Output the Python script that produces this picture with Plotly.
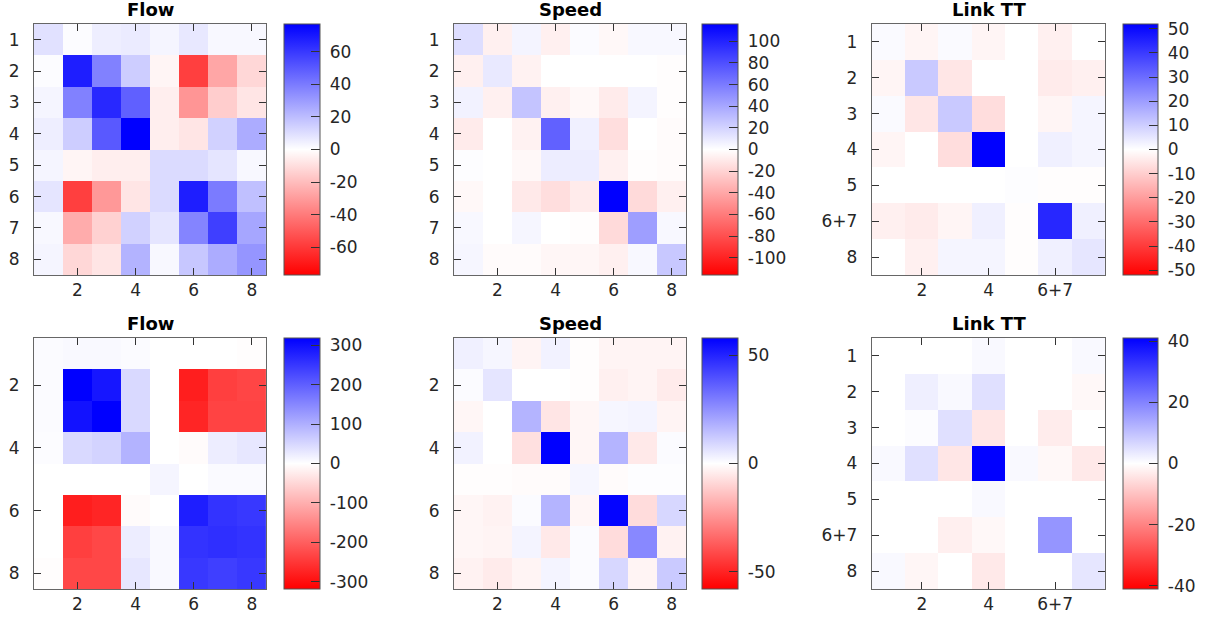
import plotly.graph_objects as go

W, H = 1206, 621

# ---------------- data ----------------
idx8 = [1, 2, 3, 4, 5, 6, 7, 8]
idx7 = [1, 2, 3, 4, 5, 6, 7]
labels_tt = ['1', '2', '3', '4', '5', '6+7', '8']

flow_top = [
    [9, 1, 5, 6, 3, 7, 2, 2],
    [1, 68, 38, 15, -3, -58, -27, -12],
    [3, 38, 65, 48, -5, -32, -15, -8],
    [5, 15, 50, 77, -5, -8, 14, 25],
    [3, -3, -5, -5, 11, 11, 8, 2],
    [8, -58, -31, -8, 11, 68, 40, 19],
    [2, -25, -14, 14, 8, 37, 58, 27],
    [3, -12, -8, 23, 2, 17, 25, 32],
]
speed_top = [
    [15, -7, 5, -7, 2, -3, 3, 3],
    [-7, 10, -6, 0, 0, 0, 0, -1],
    [6, -7, 27, -7, -3, -9, 5, -1],
    [-9, 0, -6, 72, 7, -15, 0, -2],
    [1, 0, -3, 8, 8, -7, -1, -2],
    [-3, 0, -10, -15, -9, 116, -17, -7],
    [3, 0, 4, 0, -1, -17, 44, 3],
    [4, -2, -2, -4, -4, -7, 3, 25],
]
linktt_top = [
    [1, -2, 1, -2, 0, -3, 0],
    [-2, 11, -5, 0, 0, -4, -3],
    [1, -5, 11, -7, 0, -2, 2],
    [-2, 0, -7, 52, 0, 3, 2],
    [0, 0, 0, 0, 0.5, -0.5, -0.5],
    [-3, -4, -2, 3, -0.5, 44, 3],
    [0, -3, 2, 2, -0.5, 3, 5],
]
flow_bot = [
    [5, 8, 8, 5, 0, 0, 0, -2],
    [5, 318, 290, 48, 0, -280, -240, -232],
    [5, 296, 318, 48, 0, -272, -235, -235],
    [4, 48, 55, 95, 0, -5, 22, 30],
    [0, 0, 0, 0, 12, 0, 6, 6],
    [0, -280, -272, -5, 0, 280, 254, 248],
    [0, -240, -230, 22, 8, 254, 260, 254],
    [-2, -230, -230, 30, 8, 248, 240, 248],
]
speed_bot = [
    [3.5, 2, -2.5, 3, -0.5, -2.5, -2.5, -2.5],
    [1, 6, 0, 0, -0.5, -3.5, -2.5, -4.5],
    [-2, 0, 17, -6, -2, 2, 2.5, -2.5],
    [3, 0, -7, 58, -2, 17, -5, 1],
    [-0.5, -0.5, -1, -1, 2, -1, 0.5, 0.5],
    [-2, -3, 1, 17, -2, 57, -8, 9],
    [-2, -2.5, 2.5, -5, 1, -8, 27, -3],
    [-3, -4.5, -2.5, 2.5, 1, 9, -2.5, 12],
]
linktt_bot = [
    [0, 0, 0, 1, 0, 0, 1],
    [0, 2.5, 1, 5, 0, 0, -1.2],
    [0, 0.5, 5, -4, 0, -3, 0],
    [1, 5, -4, 41, 1, -1.2, -3.5],
    [0, 0, 0, 1, 0, 0, 0],
    [0, 0, -2.5, -1.2, 0, 17, 0],
    [1, -1.5, 0, -3.5, 0, 0, 4],
]

titles = ['Flow', 'Speed', 'Link TT', 'Flow', 'Speed', 'Link TT']
cbar_ticks = [
    [-60, -40, -20, 0, 20, 40, 60],
    [-100, -80, -60, -40, -20, 0, 20, 40, 60, 80, 100],
    [-50, -40, -30, -20, -10, 0, 10, 20, 30, 40, 50],
    [-300, -200, -100, 0, 100, 200, 300],
    [-50, 0, 50],
    [-40, -20, 0, 20, 40],
]

# ---------------- layout geometry (pixels) ----------------
col_x = [(34, 267, 285, 321), (455, 688, 704, 740), (874, 1108, 1126, 1161)]
row_y = [(24, 275), (338, 589)]

panels = [
    dict(z=flow_top, x=idx8, y=idx8, xt=([2, 4, 6, 8], ['2', '4', '6', '8']), yt=(idx8, [str(i) for i in idx8])),
    dict(z=speed_top, x=idx8, y=idx8, xt=([2, 4, 6, 8], ['2', '4', '6', '8']), yt=(idx8, [str(i) for i in idx8])),
    dict(z=linktt_top, x=idx7, y=idx7, xt=([2, 4, 6], ['2', '4', '6+7']), yt=(idx7, labels_tt)),
    dict(z=flow_bot, x=idx8, y=idx8, xt=([2, 4, 6, 8], ['2', '4', '6', '8']), yt=([2, 4, 6, 8], ['2', '4', '6', '8'])),
    dict(z=speed_bot, x=idx8, y=idx8, xt=([2, 4, 6, 8], ['2', '4', '6', '8']), yt=([2, 4, 6, 8], ['2', '4', '6', '8'])),
    dict(z=linktt_bot, x=idx7, y=idx7, xt=([2, 4, 6], ['2', '4', '6+7']), yt=(idx7, labels_tt)),
]

colorscale = [[0.0, 'rgb(255,0,0)'], [0.5, 'rgb(255,255,255)'], [1.0, 'rgb(0,0,255)']]
FONT = 'DejaVu Sans'
TXT = '#262626'
FS = 17

fig = go.Figure()
annotations = []
for i, p in enumerate(panels):
    r, c = divmod(i, 3)
    x0, x1, cb0, cb1 = col_x[c]
    y0, y1 = row_y[r]
    zmax = max(abs(v) for row in p['z'] for v in row)
    n = len(p['x'])
    xa = 'x' if i == 0 else f'x{i + 1}'
    ya = 'y' if i == 0 else f'y{i + 1}'
    fig.add_trace(go.Heatmap(
        z=p['z'], x=p['x'], y=p['y'], xaxis=xa, yaxis=ya,
        colorscale=colorscale, zmin=-zmax, zmax=zmax, hoverinfo='skip',
        colorbar=dict(
            x=cb0 / W, xanchor='left', xpad=0, ypad=0,
            y=1 - (y0 + y1) / 2 / H, yanchor='middle',
            len=(y1 - y0) / H, lenmode='fraction',
            thickness=cb1 - cb0, thicknessmode='pixels',
            outlinewidth=1, outlinecolor='#555555',
            tickmode='array', tickvals=cbar_ticks[i],
            ticktext=['\u00a0' + str(v) for v in cbar_ticks[i]],
            ticks='inside', ticklen=9,
            tickcolor='#333333', tickwidth=1,
            tickfont=dict(family=FONT, size=FS, color=TXT),
        ),
    ))
    axx = dict(
        domain=[x0 / W, x1 / W], anchor=ya, range=[0.5, n + 0.5],
        tickvals=p['xt'][0], ticktext=p['xt'][1], ticks='inside', ticklen=7,
        tickcolor='#333333', showline=True, linecolor='#666666', linewidth=1,
        mirror='allticks', showgrid=False, zeroline=False,
        tickfont=dict(family=FONT, size=FS, color=TXT), fixedrange=True,
    )
    axy = dict(
        domain=[1 - y1 / H, 1 - y0 / H], anchor=xa, range=[n + 0.5, 0.5],
        tickvals=p['yt'][0], ticktext=p['yt'][1], ticks='inside', ticklen=7,
        tickcolor='#333333', showline=True, linecolor='#666666', linewidth=1,
        mirror='allticks', showgrid=False, zeroline=False,
        tickfont=dict(family=FONT, size=FS, color=TXT), fixedrange=True,
        ticklabelstandoff=10,
    )
    key = '' if i == 0 else str(i + 1)
    fig.layout['xaxis' + key] = axx
    fig.layout['yaxis' + key] = axy
    annotations.append(dict(
        text='<b>' + titles[i] + '</b>', xref='paper', yref='paper',
        x=(x0 + x1) / 2 / W, y=1 - (y0 - 2) / H, xanchor='center', yanchor='bottom',
        showarrow=False, font=dict(family=FONT, size=18, color='black'),
    ))

fig.update_layout(
    width=W, height=H, margin=dict(l=0, r=0, t=0, b=0),
    paper_bgcolor='white', plot_bgcolor='white',
    annotations=annotations, showlegend=False,
)
fig.write_html('out.html')
